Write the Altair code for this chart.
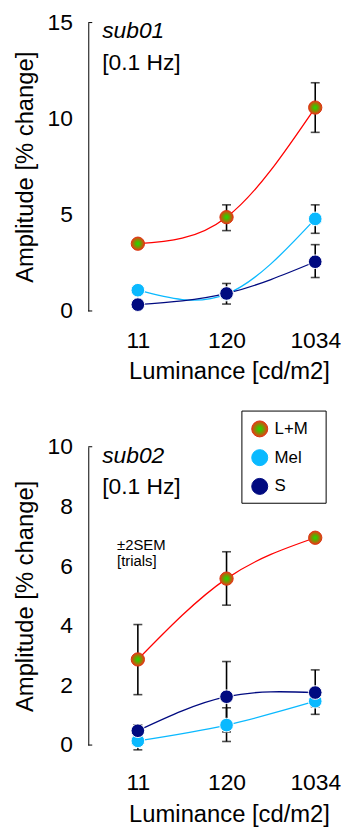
import altair as alt
import pandas as pd

lum_labels = ["11", "120", "1034"]
conditions = ["L+M", "Mel", "S"]

# sub01 (means and error bar ends, % change)
sub01_lm_mean = [3.50, 4.88, 10.58]
sub01_lm_lo = [3.35, 4.18, 9.29]
sub01_lm_hi = [3.65, 5.52, 11.87]
sub01_mel_mean = [1.08, 0.88, 4.79]
sub01_mel_lo = [0.95, 0.70, 4.04]
sub01_mel_hi = [1.22, 1.05, 5.52]
sub01_s_mean = [0.33, 0.91, 2.56]
sub01_s_lo = [0.20, 0.36, 1.74]
sub01_s_hi = [0.46, 1.43, 3.45]

# sub02
sub02_lm_mean = [2.87, 5.58, 6.95]
sub02_lm_lo = [1.69, 4.69, 6.82]
sub02_lm_hi = [4.04, 6.48, 7.08]
sub02_mel_mean = [0.14, 0.67, 1.47]
sub02_mel_lo = [-0.16, 0.12, 1.28]
sub02_mel_hi = [0.44, 1.25, 1.66]
sub02_s_mean = [0.48, 1.62, 1.76]
sub02_s_lo = [0.28, 0.44, 1.03]
sub02_s_hi = [0.68, 2.80, 2.52]

line_colors = ["#ff0000", "#0ab9ff", "#000a80"]
FONT = "Liberation Sans"


def make_df(series):
    rows = []
    for cond, (m, lo, hi) in zip(conditions, series):
        for i, lab in enumerate(lum_labels):
            rows.append({"cond": cond, "idx": i, "lum": lab, "mean": m[i], "lo": lo[i], "hi": hi[i]})
    return pd.DataFrame(rows)


df1 = make_df([(sub01_lm_mean, sub01_lm_lo, sub01_lm_hi),
               (sub01_mel_mean, sub01_mel_lo, sub01_mel_hi),
               (sub01_s_mean, sub01_s_lo, sub01_s_hi)])
df2 = make_df([(sub02_lm_mean, sub02_lm_lo, sub02_lm_hi),
               (sub02_mel_mean, sub02_mel_lo, sub02_mel_hi),
               (sub02_s_mean, sub02_s_lo, sub02_s_hi)])

label_expr = "[" + ",".join("'%s'" % l for l in lum_labels) + "][datum.value]"

lm_grad = alt.RadialGradient(
    gradient="radial",
    stops=[alt.GradientStop(color="#22dd00", offset=0),
           alt.GradientStop(color="#55b000", offset=0.35),
           alt.GradientStop(color="#ee3a12", offset=1)],
    x1=0.5, y1=0.5, r1=0, x2=0.5, y2=0.5, r2=0.5)


def panel(df, name, ydom, yvals, height, xlabpad, xtitlepad, legend=False, sem=False):
    xs = alt.X("idx:Q", scale=alt.Scale(domain=[-0.559, 2.123], nice=False, zero=False),
               axis=alt.Axis(values=[0, 1, 2], labelExpr=label_expr, domain=False, ticks=False,
                             grid=False, labelPadding=xlabpad, titlePadding=xtitlepad,
                             titleX=142, titleAlign="center",
                             title="Luminance [cd/m2]"))

    def ys(field):
        return alt.Y(f"{field}:Q", scale=alt.Scale(domain=ydom, nice=False, zero=False),
                     axis=alt.Axis(values=yvals, title="Amplitude [% change]", grid=False,
                                   ticks=False, tickSize=0, labelPadding=16, titlePadding=10,
                                   domainColor="black", domainWidth=1))

    base = alt.Chart(df)
    lines = base.mark_line(interpolate="natural", strokeWidth=1.3).encode(
        x=xs, y=ys("mean"),
        color=alt.Color("cond:N", scale=alt.Scale(domain=conditions, range=line_colors), legend=None))
    err = base.mark_rule(color="black", strokeWidth=1.6).encode(x=xs, y=ys("lo"), y2="hi:Q")
    cap_lo = base.mark_tick(orient="horizontal", color="black", size=9, thickness=1.6).encode(x=xs, y=ys("lo"))
    cap_hi = base.mark_tick(orient="horizontal", color="black", size=9, thickness=1.6).encode(x=xs, y=ys("hi"))
    lm = base.transform_filter(alt.datum.cond == "L+M").mark_circle(
        fill=lm_grad, stroke="#d83410", strokeWidth=1, size=180, opacity=1).encode(x=xs, y=ys("mean"))
    mel = base.transform_filter(alt.datum.cond == "Mel").mark_circle(
        fill=line_colors[1], stroke="white", strokeWidth=1, size=190, opacity=1).encode(x=xs, y=ys("mean"))
    s = base.transform_filter(alt.datum.cond == "S").mark_circle(
        fill=line_colors[2], stroke="white", strokeWidth=1, size=190, opacity=1).encode(x=xs, y=ys("mean"))

    endticks = alt.Chart(pd.DataFrame({"mean": [ydom[0], ydom[1]]})).mark_rule(
        color="black", strokeWidth=1).encode(y=ys("mean"), x=alt.value(0), x2=alt.value(4))

    one = pd.DataFrame({"a": [0]})
    t1 = alt.Chart(one).mark_text(font=FONT, fontSize=23, fontStyle="italic", align="left",
                                  baseline="middle", color="black").encode(
        x=alt.value(14), y=alt.value(9), text=alt.value(name))
    t2 = alt.Chart(one).mark_text(font=FONT, fontSize=23, align="left", baseline="middle",
                                  color="black").encode(
        x=alt.value(14), y=alt.value(41), text=alt.value("[0.1 Hz]"))
    layers = [lines, err, cap_lo, cap_hi, lm, mel, s, endticks, t1, t2]

    if sem:
        for txt, yy in [("±2SEM", 99), ("[trials]", 115)]:
            layers.append(alt.Chart(one).mark_text(font=FONT, fontSize=15, align="left",
                                                   baseline="middle", color="black").encode(
                x=alt.value(29), y=alt.value(yy), text=alt.value(txt)))
    if legend:
        layers.append(alt.Chart(one).mark_rect(fill="white", stroke="black", strokeWidth=1).encode(
            x=alt.value(155), x2=alt.value(240), y=alt.value(-36), y2=alt.value(57)))
        ly = [-18, 11, 40]
        fills = [lm_grad, line_colors[1], line_colors[2]]
        strokes = ["#d83410", line_colors[1], line_colors[2]]
        for cond, yy, f, st in zip(conditions, ly, fills, strokes):
            layers.append(alt.Chart(one).mark_circle(fill=f, stroke=st, strokeWidth=1, size=260,
                                                     opacity=1).encode(
                x=alt.value(173), y=alt.value(yy)))
            layers.append(alt.Chart(one).mark_text(font=FONT, fontSize=17, align="left",
                                                   baseline="middle", color="black").encode(
                x=alt.value(188), y=alt.value(yy), text=alt.value(cond)))

    return alt.layer(*layers).properties(width=240, height=height)


top = panel(df1, "sub01", [0, 15], [0, 5, 10, 15], 291, 19, 7)
bottom = panel(df2, "sub02", [0, 10], [0, 2, 4, 6, 8, 10], 301, 27, 8, legend=True, sem=True)

chart = alt.vconcat(top, bottom, spacing=27).properties(
    padding={"left": 5, "top": 0, "right": 0, "bottom": 0}
).configure_axis(
    labelFont=FONT, titleFont=FONT, labelFontSize=23, titleFontSize=24,
    titleFontWeight="normal", labelColor="black", titleColor="black"
).configure_view(stroke=None)

chart.save("out.html", embed_options={"renderer": "svg", "actions": False})
